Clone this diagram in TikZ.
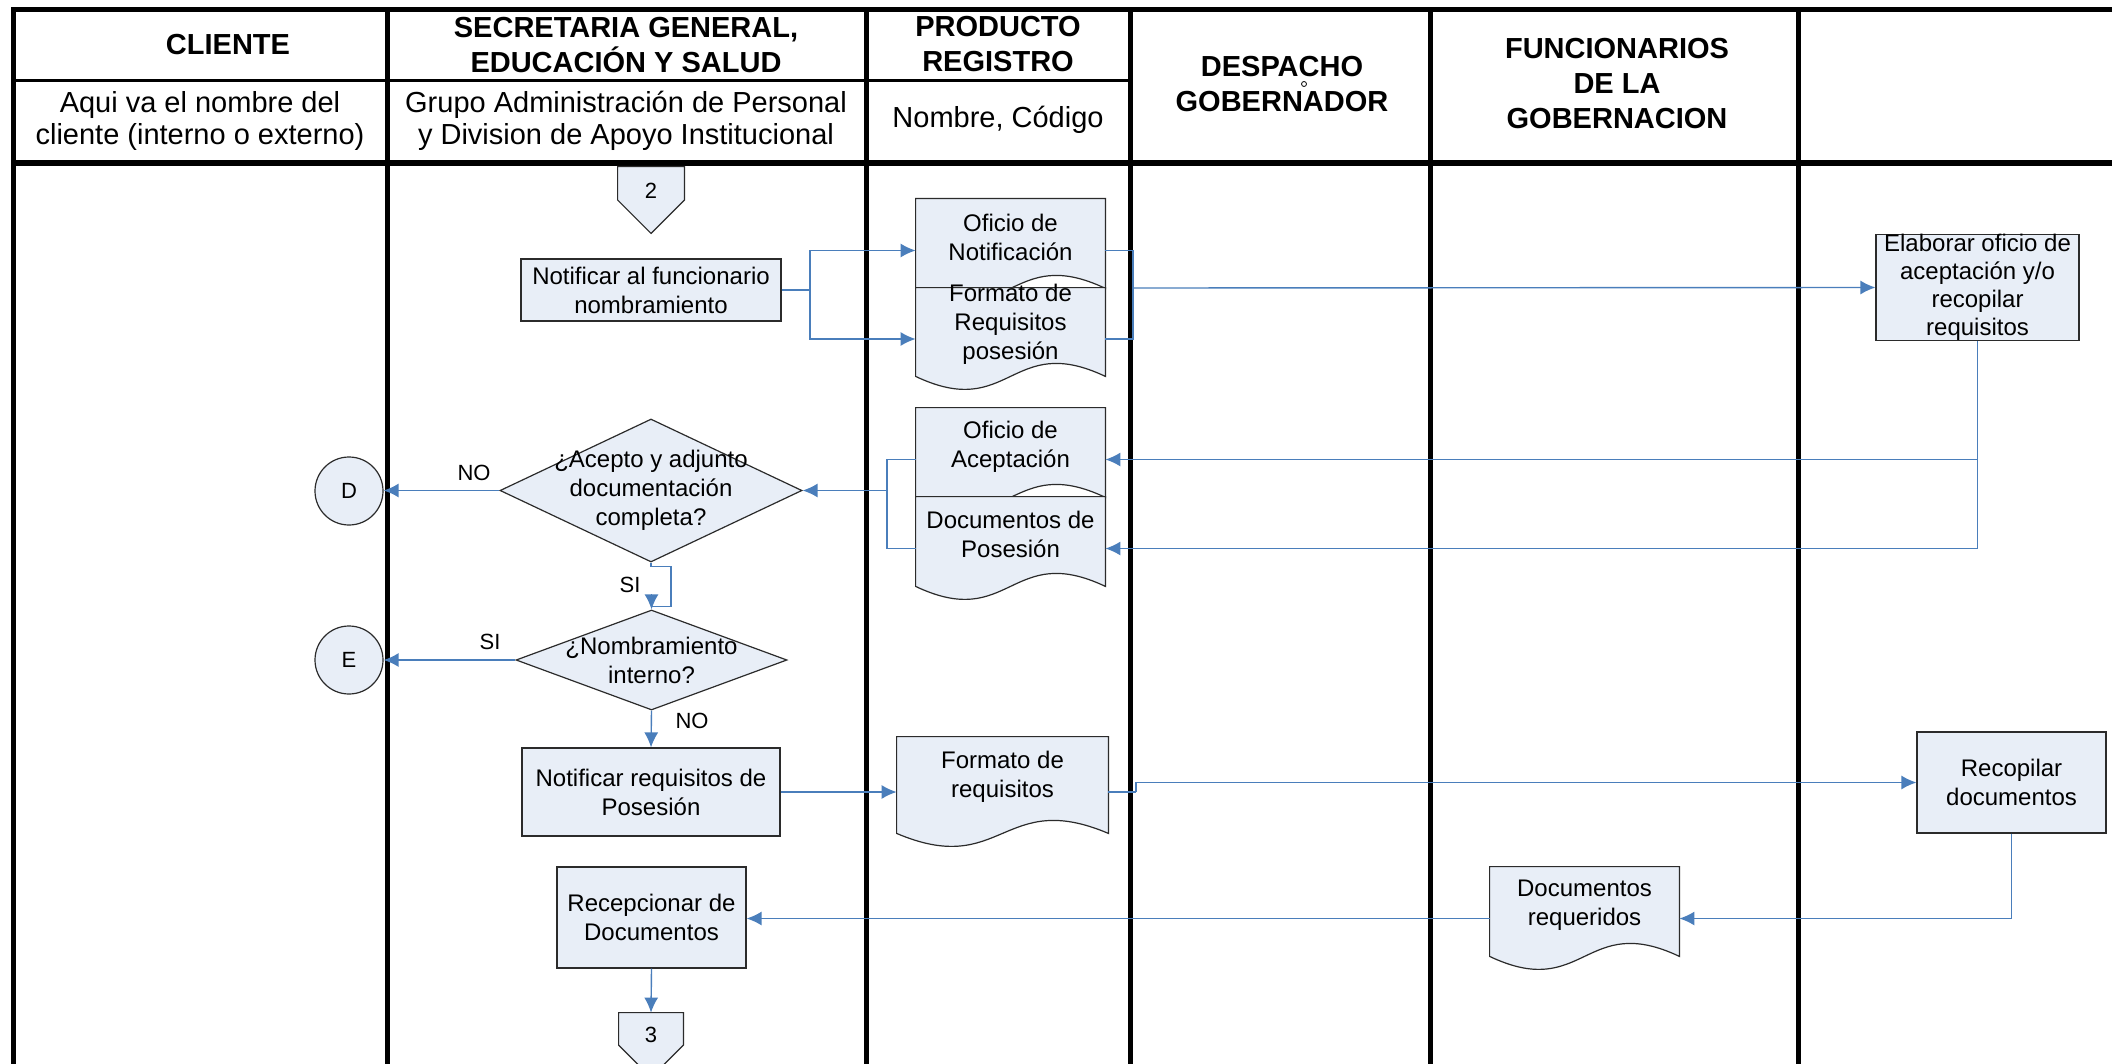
\documentclass[tikz,border=0pt]{standalone}
\usepackage{fontspec}
\setmainfont{Liberation Sans}
\usetikzlibrary{shapes.geometric,arrows.meta,calc}
\definecolor{shapefill}{HTML}{E8EEF7}
\definecolor{connblue}{HTML}{4A7EBB}
\definecolor{shapeline}{HTML}{2B2B2B}
\pgfdeclarelayer{lanes}
\pgfdeclarelayer{docs}
\pgfsetlayers{lanes,docs,main}
\newcommand\bodyfont{\fontsize{12}{14.5}\selectfont}
\newcommand\headfont{\fontsize{14.5}{17.5}\selectfont\bfseries}
\newcommand\subfont{\fontsize{14.5}{16}\selectfont}
\newcommand\docoutline[1]{%
  \begin{pgfonlayer}{docs}
  \draw[docshape] (#1.north west) -- (#1.north east) -- ($(#1.south east)+(0,-14)$)
    .. controls ($(#1.south)+(0,-59)$) and ($(#1.south)+(0,31)$) .. ($(#1.south west)+(0,-14)$) -- cycle;
  \end{pgfonlayer}}
\newcommand\offpage[1]{%
  \begin{pgfonlayer}{docs}
  \draw[docshape] (#1.north west) -- (#1.north east) -- (#1.east) -- (#1.south) -- (#1.west) -- cycle;
  \end{pgfonlayer}}
\tikzset{
  lane/.style={line width=2.5pt, black},
  procbox/.style={draw=shapeline, fill=shapefill, line width=0.6pt, inner sep=0pt, align=center, font=\bodyfont},
  docnode/.style={draw=none, inner sep=0pt},
  docshape/.style={draw=shapeline, fill=shapefill, line width=0.6pt},
  dtext/.style={align=center, font=\bodyfont, inner sep=0pt},
  decision/.style={diamond, draw=shapeline, fill=shapefill, line width=0.6pt, inner sep=0pt},
  refcircle/.style={circle, draw=shapeline, fill=shapefill, line width=0.6pt, inner sep=0pt, minimum size=34pt, font=\fontsize{11}{13}\selectfont},
  conn/.style={draw=connblue, line width=0.7pt},
  arr/.style={-{Latex[length=7.5pt,width=7pt]}},
  lbl/.style={font=\fontsize{11}{13}\selectfont, inner sep=0pt},
  head/.style={font=\headfont, align=center, inner sep=0pt},
  sub/.style={font=\subfont, align=center, inner sep=0pt}
}
\begin{document}
\begin{tikzpicture}[x=0.5pt, y=-0.5pt]
\useasboundingbox (0,0) rectangle (2112,1064);
\clip (0,0) rectangle (2112,1064);

% swimlane table
\begin{pgfonlayer}{lanes}
\fill[white] (0,0) rectangle (2112,1064);
\draw[lane] (13,1064) -- (13,10) -- (2112,10);
\draw[line width=1.5pt] (13,81) -- (1130,81);
\draw[line width=3pt] (13,163) -- (2112,163);
\foreach \xx in {387,866,1130,1430,1798} \draw[lane] (\xx,10) -- (\xx,1064);
\end{pgfonlayer}

% header texts
\node[head] (h1) at (228,45) {CLIENTE};
\node[head] (h2) at (626,45) {SECRETARIA GENERAL,\\EDUCACIÓN Y SALUD};
\node[head] (h3) at (998,44) {PRODUCTO\\REGISTRO};
\node[head] (h4) at (1282,84) {DESPACHO\\GOBERNADOR};
\node[head] (h5) at (1617,84) {FUNCIONARIOS\\DE LA\\GOBERNACION};
\draw[line width=0.4pt] (1304,84) circle[radius=2.5];
\node[sub] (s1) at (200,121) {Aqui va el nombre del\\cliente (interno o externo)};
\node[sub] (s2) at (626,121) {Grupo Administración de Personal\\y Division de Apoyo Institucional};
\node[sub] (s3) at (998,120) {Nombre, Código};

% off-page connector 2
\node[docnode, minimum width=33pt, minimum height=33pt,
  label={[lbl, yshift=4.5pt]center:2}] (c2) at (651,200) {};
\offpage{c2}

% process boxes
\node[procbox, minimum width=130pt, minimum height=31pt] (n1) at (651,290) {Notificar al funcionario\\nombramiento};
\node[procbox, minimum width=101.5pt, minimum height=50.5pt, font=\fontsize{12}{14}\selectfont] (elab) at (1977.5,287.5) {Elaborar oficio de\\aceptación y/o\\recopilar\\requisitos};
\node[procbox, minimum width=129pt, minimum height=44pt] (n2) at (651,792) {Notificar requisitos de\\Posesión};
\node[procbox, minimum width=94.5pt, minimum height=50.5pt] (recop) at (2011.5,782.5) {Recopilar\\documentos};
\node[procbox, minimum width=94.5pt, minimum height=50.5pt] (n3) at (651.5,917.5) {Recepcionar de\\Documentos};

% documents
\node[docnode, minimum width=94.5pt, minimum height=51.5pt,
  label={[dtext,yshift=6.5pt]center:{Oficio de\\Notificación}}] (docA) at (1010.5,250.5) {};
\docoutline{docA}
\node[docnode, minimum width=94.5pt, minimum height=51pt,
  label={[dtext,yshift=7.5pt]center:{Formato de\\Requisitos\\posesión}}] (docB) at (1010.5,339) {};
\docoutline{docB}
\node[docnode, minimum width=94.5pt, minimum height=51.5pt,
  label={[dtext,yshift=6.25pt]center:{Oficio de\\Aceptación}}] (docC) at (1010.5,459.5) {};
\docoutline{docC}
\node[docnode, minimum width=94.5pt, minimum height=51.5pt,
  label={[dtext,yshift=7.25pt]center:{Documentos de\\Posesión}}] (docD) at (1010.5,548.5) {};
\docoutline{docD}
\node[docnode, minimum width=105.5pt, minimum height=55pt,
  label={[dtext,yshift=7.5pt]center:{Formato de\\requisitos}}] (docE) at (1002.5,792) {};
\docoutline{docE}
\node[docnode, minimum width=94.5pt, minimum height=51.5pt,
  label={[dtext,yshift=6.75pt]center:{Documentos\\requeridos}}] (docF) at (1584.5,918.5) {};
\docoutline{docF}

% decisions
\node[decision, minimum width=151pt, minimum height=71.5pt,
  label={[dtext]center:{¿Acepto y adjunto\\documentación\\completa?}}] (dec1) at (651,490.5) {};
\node[decision, minimum width=135.5pt, minimum height=50pt,
  label={[dtext]center:{¿Nombramiento\\interno?}}] (dec2) at (651.5,660) {};

% reference circles
\node[refcircle] (D) at (349,491) {D};
\node[refcircle] (E) at (349,660) {E};

% off-page connector 3
\node[docnode, minimum width=32pt, minimum height=32pt,
  label={[lbl, yshift=5pt]center:3}] (c3) at (651,1045) {};
\offpage{c3}

% connectors
\coordinate (j1) at (810,290);
\draw[conn] (n1.east) -- (j1);
\draw[conn,arr] (j1) |- (docA.west);
\draw[conn,arr] (j1) |- (docB.west);

\coordinate (j2) at (1133,288);
\draw[conn] (docA.east) -| (j2);
\draw[conn] (docB.east) -| (j2);
\draw[conn,arr] (j2) -- (elab.west);

\draw[conn,arr] (elab.south) |- (docD.east);
\draw[conn,arr] (elab.south |- docC.east) -- (docC.east);

\coordinate (j4) at (887,490.5);
\draw[conn] (docC.west) -| (j4);
\draw[conn] (docD.west) -| (j4);
\draw[conn,arr] (j4) -- (dec1.east);

\draw[conn,arr] (dec1.west) -- (D.east |- dec1.west);
\node[lbl] (lno1) at (474,473) {NO};

\draw[conn] (dec1.south) -- ++(0,4) -- ++(20,0) -- ++(0,40) -- ++(-20,0);
\draw[conn,arr] ($(dec2.north)+(0,-15)$) -- (dec2.north);
\node[lbl] (lsi1) at (630,585) {SI};

\draw[conn,arr] (dec2.west) -- (E.east);
\node[lbl] (lsi2) at (490,642) {SI};

\draw[conn,arr] (dec2.south) -- (n2.north);
\node[lbl] (lno2) at (692,721) {NO};

\draw[conn,arr] (n2.east) -- (docE.west);
\coordinate (j5) at (1136,792);
\draw[conn] (docE.east) -- (j5);
\draw[conn,arr] (j5) |- (recop.west);
\draw[conn,arr] (recop.south) |- (docF.east);
\draw[conn,arr] (docF.west) -- (docF.west -| n3.east);
\draw[conn,arr] (n3.south) -- (c3.north);
\end{tikzpicture}
\end{document}
